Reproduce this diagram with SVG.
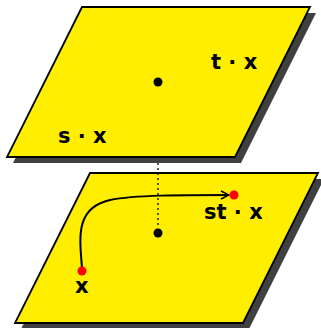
<svg xmlns="http://www.w3.org/2000/svg" width="321" height="328" viewBox="0 0 321 328">
<defs>
<style>
.shadow{fill:#404040;stroke:none}
.plane{fill:#ffee00;stroke:#000;stroke-width:1.8;stroke-linejoin:miter}
.lbl{font-family:"DejaVu Sans",sans-serif;font-weight:bold;font-size:21px;fill:#000}
.dot{fill:#000}
.red{fill:#ff0000}
</style>
<marker id="arr" viewBox="0 0 10 10" refX="9" refY="5" markerWidth="10" markerHeight="10" markerUnits="userSpaceOnUse" orient="auto">
<path d="M1,1 L9,5 L1,9" fill="none" stroke="#000" stroke-width="1.5"/>
</marker>
</defs>
<g id="plane-top">
<polygon class="shadow" points="88,13 316,13 241,163 13,163"/>
<polygon class="plane" points="82,7 310,7 235,157 7,157"/>
<circle class="dot" cx="158" cy="82" r="4.5"/>
<text class="lbl" x="211" y="69">t · x</text>
<text class="lbl" x="58" y="143">s · x</text>
</g>
<g id="plane-bottom">
<polygon class="shadow" points="96,179 324,179 249,329 21,329"/>
<polygon class="plane" points="90,173 318,173 243,323 15,323"/>
<circle class="dot" cx="158" cy="233" r="4.5"/>
<text class="lbl" x="204" y="219">st · x</text>
<text class="lbl" x="75" y="293">x</text>
</g>
<g id="connectors">
<line x1="158" y1="163" x2="158" y2="227" stroke="#000" stroke-width="1.3" stroke-dasharray="2,3"/>
<path d="M82,268 C80,240 74,208 110,200 C135,195 180,195 229,195" fill="none" stroke="#000" stroke-width="2" marker-end="url(#arr)"/>
</g>
<g id="points">
<circle class="red" cx="82" cy="271" r="4.5"/>
<circle class="red" cx="234" cy="195" r="4.5"/>
</g>
</svg>
